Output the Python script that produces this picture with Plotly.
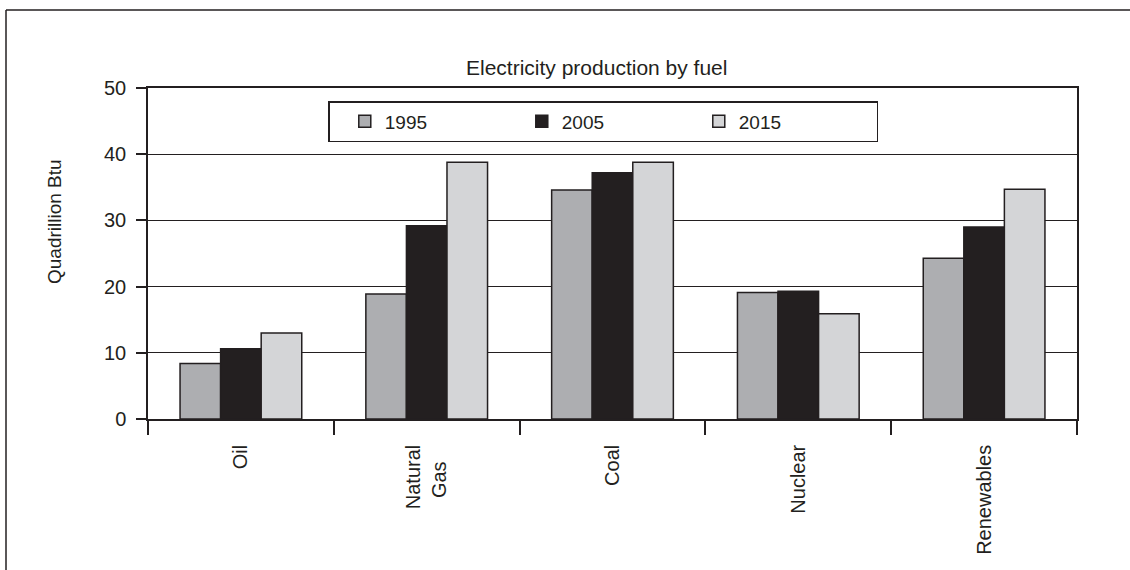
import plotly.graph_objects as go

categories = ["Oil", "Natural<br>Gas&nbsp;&nbsp;&nbsp;", "Coal", "Nuclear", "Renewables"]
years = ["1995", "2005", "2015"]
values_1995 = [8.4, 18.9, 34.6, 19.1, 24.3]
values_2005 = [10.6, 29.2, 37.2, 19.3, 29.0]
values_2015 = [13.0, 38.8, 38.8, 15.9, 34.7]
y_ticks = [0, 10, 20, 30, 40, 50]

colors = ["#adaeb1", "#231f20", "#d4d5d7"]
series = [values_1995, values_2005, values_2015]

FONT = "Liberation Sans, Arial, Helvetica, sans-serif"
INK = "#231f20"

fig = go.Figure()
for name, vals, col in zip(years, series, colors):
    fig.add_trace(go.Bar(
        x=categories, y=vals, name=name,
        marker=dict(color=col, line=dict(color=INK, width=1.5)),
    ))

# plot area in pixels
L, R, T, B = 148, 1077, 88, 419
W, H = 1130, 570
pw, ph = R - L, B - T

def px(x):
    return (x - L) / pw

def py(y):
    return (B - y) / ph

fig.update_layout(
    width=W, height=H,
    margin=dict(l=L, r=W - R, t=T, b=H - B, pad=0),
    paper_bgcolor="white", plot_bgcolor="white",
    barmode="group", bargap=0.345, bargroupgap=0,
    font=dict(family=FONT, color=INK, size=20),
    showlegend=True,
    legend=dict(
        orientation="h", x=px(328), y=py(101), xanchor="left", yanchor="top",
        bordercolor=INK, borderwidth=1.5, bgcolor="white",
        font=dict(size=19, family=FONT, color=INK),
        entrywidth=132, entrywidthmode="pixels",
        title=dict(text="&nbsp;", side="left", font=dict(size=19)),
    ),
    xaxis=dict(
        type="category", tickson="boundaries",
        ticks="outside", ticklen=14, tickwidth=1.5, tickcolor=INK,
        showline=True, linecolor=INK, linewidth=1.5, mirror=True,
        showgrid=False, tickangle=-90, ticklabelstandoff=16,
        tickfont=dict(size=20, family=FONT, color=INK),
    ),
    yaxis=dict(
        range=[0, 50], tickvals=y_ticks,
        ticks="outside", ticklen=10, tickwidth=1.5, tickcolor=INK,
        showline=True, linecolor=INK, linewidth=1.5, mirror=True,
        showgrid=True, gridcolor=INK, gridwidth=1.2,
        zeroline=False, ticklabelstandoff=6,
        tickfont=dict(size=20, family=FONT, color=INK),
    ),
    annotations=[
        dict(text="Electricity production by fuel", x=px(596), y=py(67),
             xref="paper", yref="paper", showarrow=False,
             xanchor="center", yanchor="middle",
             font=dict(size=21, family=FONT, color=INK)),
        dict(text="Quadrillion Btu", x=px(54), y=py(222),
             xref="paper", yref="paper", showarrow=False, textangle=-90,
             xanchor="center", yanchor="middle",
             font=dict(size=19, family=FONT, color=INK)),
    ],
    shapes=[
        dict(type="line", xref="paper", yref="paper",
             x0=px(6), x1=px(6), y0=py(10), y1=py(580),
             line=dict(color=INK, width=1.5)),
        dict(type="line", xref="paper", yref="paper",
             x0=px(6), x1=px(1140), y0=py(10), y1=py(10),
             line=dict(color=INK, width=1.5)),
    ],
)

fig.write_html("out.html", config={"displayModeBar": False},
               post_script="document.body.style.margin='0';")
